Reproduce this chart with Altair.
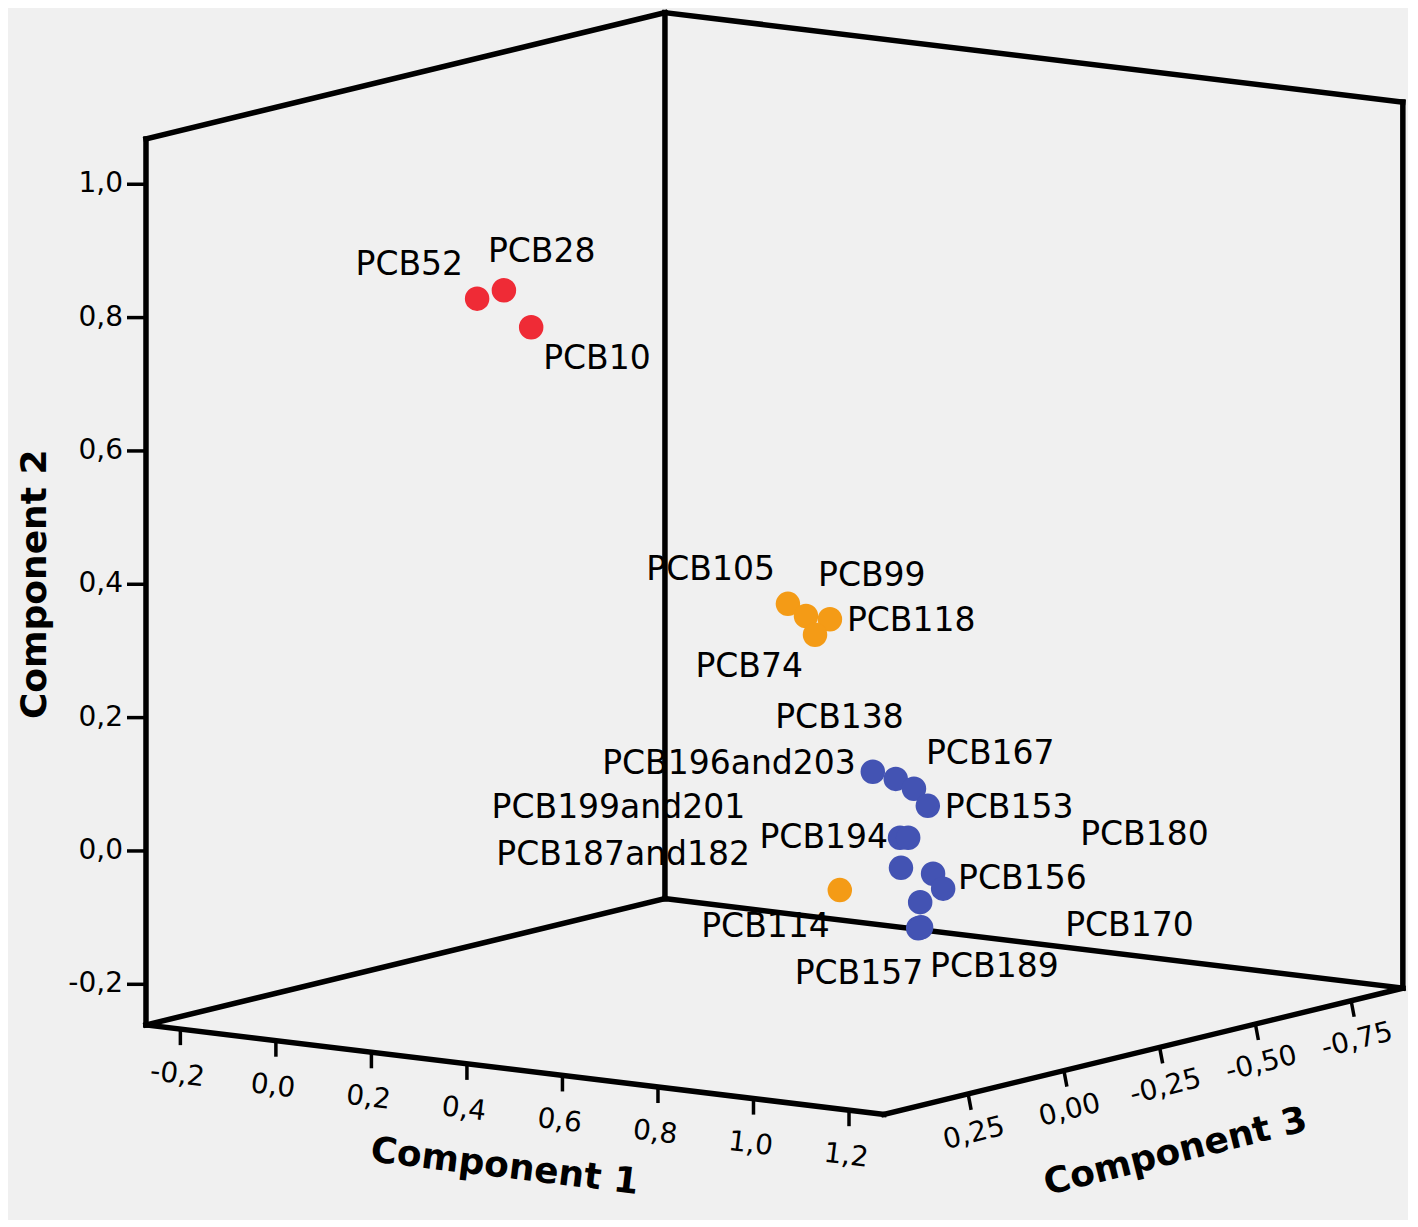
import altair as alt
import pandas as pd

# ---------------- data (component loadings) ----------------
names = ["PCB52", "PCB28", "PCB10",
         "PCB105", "PCB99", "PCB118", "PCB74", "PCB114",
         "PCB196and203", "PCB138", "PCB167", "PCB153", "PCB194", "PCB199and201",
         "PCB187and182", "PCB156", "PCB180", "PCB170", "PCB157", "PCB189"]
comp1 = [0.285, 0.301, 0.318,
         0.615, 0.733, 0.743, 0.792, 0.884,
         0.913, 0.921, 0.919, 0.948, 0.970, 0.947,
         0.972, 0.959, 0.940, 0.932, 0.968, 0.974]
comp2 = [0.853, 0.860, 0.799,
         0.368, 0.374, 0.363, 0.358, -0.010,
         0.163, 0.146, 0.124, 0.101, 0.069, 0.060,
         0.024, 0.000, -0.031, -0.045, -0.074, -0.072]
comp3 = [0.30, 0.25, 0.20,
         -0.10, 0.00, -0.05, 0.05, 0.10,
         0.05, 0.00, -0.05, -0.05, 0.05, 0.00,
         0.05, -0.05, -0.10, -0.05, 0.00, 0.00]
cluster = ["1", "1", "1",
           "2", "2", "2", "2", "2",
           "3", "3", "3", "3", "3", "3", "3", "3", "3", "3", "3", "3"]

# axis ticks
ticks_c1 = [-0.2, 0.0, 0.2, 0.4, 0.6, 0.8, 1.0, 1.2]
ticks_c2 = [-0.2, 0.0, 0.2, 0.4, 0.6, 0.8, 1.0]
ticks_c3 = [0.25, 0.00, -0.25, -0.50, -0.75]
labels_c1 = ["-0,2", "0,0", "0,2", "0,4", "0,6", "0,8", "1,0", "1,2"]
labels_c2 = ["-0,2", "0,0", "0,2", "0,4", "0,6", "0,8", "1,0"]
labels_c3 = ["0,25", "0,00", "-0,25", "-0,50", "-0,75"]

# box extents
C1 = (-0.272, 1.273)
C2 = (-0.261, 1.068)
C3 = (-0.885, 0.47)

# ---------------- layout / style ----------------
label_dx = [-14, -16, 12, -13, 12, 17, -12, -10,
            -17, 8, 12, 17, -12, -163, -151, 25, 137, 145, 5, 9]
label_dy = [-34, -38, 32, -34, -40, 2, 32, 37,
            -8, -61, -35, 2, 0, -30, -13, 5, -54, 24, 46, 40]
label_align = ["right", "left", "left", "right", "left", "left", "right", "right",
               "right", "right", "left", "left", "right", "right", "right", "left",
               "left", "left", "right", "left"]

P0 = (455.9, 820.9)
U1 = (477.6, 57.9)
U2 = (0.0, -666.7)
U3 = (-383.0, 93.2)


def project(c1, c2, c3):
    x = P0[0] + c1 * U1[0] + c2 * U2[0] + c3 * U3[0]
    y = P0[1] + c1 * U1[1] + c2 * U2[1] + c3 * U3[1]
    return x, y


W, H = 1400, 1210
xs = alt.Scale(domain=[8, 8 + W])
ys = alt.Scale(domain=[8, 8 + H], reverse=True)

# points
pts = pd.DataFrame({"name": names, "c1": comp1, "c2": comp2, "c3": comp3,
                    "cluster": cluster, "dx": label_dx, "dy": label_dy,
                    "align": label_align})
pts["X"] = [project(a, b, c)[0] for a, b, c in zip(comp1, comp2, comp3)]
pts["Y"] = [project(a, b, c)[1] for a, b, c in zip(comp1, comp2, comp3)]
pts["LX"] = pts["X"] + pts["dx"]
pts["LY"] = pts["Y"] + pts["dy"]

# box edges
corners_pairs = [
    ((C1[0], C2[0], C3[1]), (C1[0], C2[1], C3[1])),
    ((C1[0], C2[0], C3[0]), (C1[0], C2[1], C3[0])),
    ((C1[1], C2[0], C3[0]), (C1[1], C2[1], C3[0])),
    ((C1[0], C2[1], C3[1]), (C1[0], C2[1], C3[0])),
    ((C1[0], C2[1], C3[0]), (C1[1], C2[1], C3[0])),
    ((C1[0], C2[0], C3[1]), (C1[1], C2[0], C3[1])),
    ((C1[1], C2[0], C3[1]), (C1[1], C2[0], C3[0])),
    ((C1[1], C2[0], C3[0]), (C1[0], C2[0], C3[0])),
    ((C1[0], C2[0], C3[0]), (C1[0], C2[0], C3[1])),
]
edges = []
for a, b in corners_pairs:
    x1, y1 = project(*a)
    x2, y2 = project(*b)
    edges.append({"x": x1, "y": y1, "x2": x2, "y2": y2})
edges = pd.DataFrame(edges)

# ticks and tick labels
tick_rows = []
lab_rows = []
for v, lab in zip(ticks_c1, labels_c1):
    x, y = project(v, C2[0], C3[1])
    tick_rows.append({"x": x, "y": y, "x2": x, "y2": y + 16})
    lab_rows.append({"x": x - 3, "y": y + 46, "text": lab, "angle": 7, "align": "center"})
for v, lab in zip(ticks_c3, labels_c3):
    x, y = project(C1[1], C2[0], v)
    tick_rows.append({"x": x, "y": y, "x2": x + 3, "y2": y + 16})
    lab_rows.append({"x": x + 6, "y": y + 40, "text": lab, "angle": 346, "align": "center"})
for v, lab in zip(ticks_c2, labels_c2):
    x, y = project(C1[0], v, C3[1])
    tick_rows.append({"x": x - 19, "y": y, "x2": x, "y2": y})
    lab_rows.append({"x": x - 23, "y": y, "text": lab, "angle": 0, "align": "right"})
ticks = pd.DataFrame(tick_rows)
tlabs = pd.DataFrame(lab_rows)

# axis titles
tx1, ty1 = project(0.5, C2[0], C3[1])
tx3, ty3 = project(C1[1], C2[0], -0.2)
tx2, ty2 = project(C1[0], 0.4, C3[1])
titles = pd.DataFrame([
    {"x": tx1 - 10, "y": ty1 + 97, "text": "Component 1", "angle": 7},
    {"x": tx3 + 35, "y": ty3 + 100, "text": "Component 3", "angle": 346},
    {"x": tx2 - 111, "y": ty2, "text": "Component 2", "angle": 270},
])

edge_layer = alt.Chart(edges).mark_rule(strokeWidth=5.5, color="#000000", strokeCap="square").encode(
    x=alt.X("x:Q", scale=xs, axis=None), y=alt.Y("y:Q", scale=ys, axis=None),
    x2="x2:Q", y2="y2:Q")

tick_layer = alt.Chart(ticks).mark_rule(strokeWidth=3.5, color="#000000").encode(
    x=alt.X("x:Q", scale=xs, axis=None), y=alt.Y("y:Q", scale=ys, axis=None),
    x2="x2:Q", y2="y2:Q")

tlab_center = alt.Chart(tlabs).transform_filter(alt.datum.align == "center").mark_text(
    font="DejaVu Sans", fontSize=28, color="#000000", align="center", baseline="middle").encode(
    x=alt.X("x:Q", scale=xs, axis=None), y=alt.Y("y:Q", scale=ys, axis=None),
    text="text:N", angle=alt.Angle("angle:Q", scale=None))

tlab_right = alt.Chart(tlabs).transform_filter(alt.datum.align == "right").mark_text(
    font="DejaVu Sans", fontSize=28, color="#000000", align="right", baseline="middle").encode(
    x=alt.X("x:Q", scale=xs, axis=None), y=alt.Y("y:Q", scale=ys, axis=None),
    text="text:N")

title_layer = alt.Chart(titles).mark_text(
    font="DejaVu Sans", fontWeight="bold", fontSize=36, color="#000000",
    align="center", baseline="middle").encode(
    x=alt.X("x:Q", scale=xs, axis=None), y=alt.Y("y:Q", scale=ys, axis=None),
    text="text:N", angle=alt.Angle("angle:Q", scale=None))

lab_left = alt.Chart(pts).transform_filter(alt.datum.align == "left").mark_text(
    font="DejaVu Sans", fontSize=33, color="#000000", align="left", baseline="middle").encode(
    x=alt.X("LX:Q", scale=xs, axis=None), y=alt.Y("LY:Q", scale=ys, axis=None),
    text="name:N")
lab_right = alt.Chart(pts).transform_filter(alt.datum.align == "right").mark_text(
    font="DejaVu Sans", fontSize=33, color="#000000", align="right", baseline="middle").encode(
    x=alt.X("LX:Q", scale=xs, axis=None), y=alt.Y("LY:Q", scale=ys, axis=None),
    text="name:N")

point_layer = alt.Chart(pts).mark_circle(size=600, opacity=1).encode(
    x=alt.X("X:Q", scale=xs, axis=None), y=alt.Y("Y:Q", scale=ys, axis=None),
    color=alt.Color("cluster:N", scale=alt.Scale(domain=["1", "2", "3"],
                                                 range=["#ef2b36", "#f49b16", "#4353b3"]),
                    legend=None))

chart = alt.layer(lab_left, lab_right, tlab_center, tlab_right, title_layer,
                  edge_layer, tick_layer, point_layer).properties(
    width=W, height=H, padding=0, background="#f0f0f0"
).configure_view(stroke=None)

chart.save("out.html", embed_options={"renderer": "svg", "actions": False})
